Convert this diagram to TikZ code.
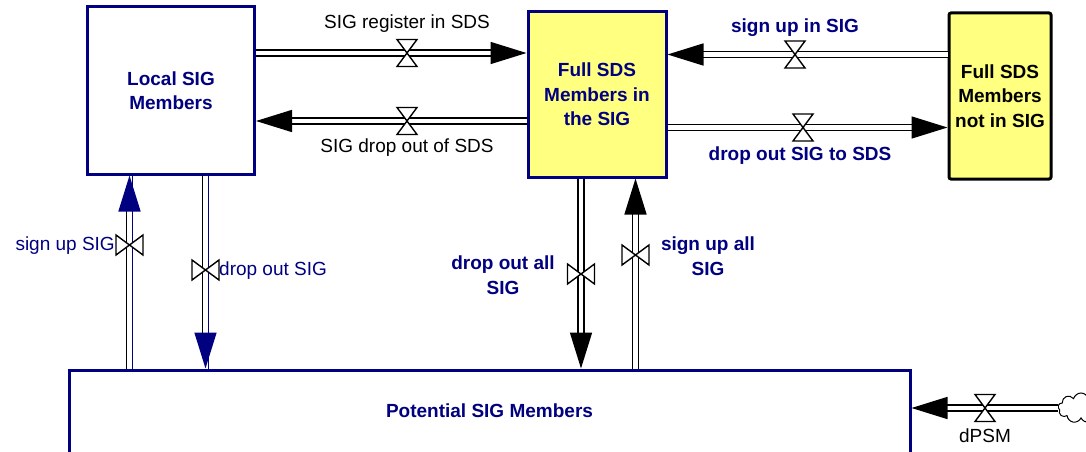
\documentclass[tikz,border=0pt]{standalone}
\usepackage{fontspec}
\setmainfont{Liberation Sans}
\usetikzlibrary{arrows.meta,shapes.symbols}
\definecolor{navy}{RGB}{0,0,128}
\definecolor{stockyellow}{RGB}{255,255,128}
\tikzset{
  stock/.style={draw=navy, line width=3pt, fill=white, align=center, text=navy,
    font=\fontsize{19}{24.5}\selectfont\bfseries},
  pipe/.style={draw=black, double=white, double distance=4.4pt, line width=1.5pt},
  flowtip/.style={-{Triangle[length=36pt,width=22pt]}},
  navytip/.style={-{Triangle[length=36pt,width=22pt,color=navy]}},
  flowlabel/.style={font=\fontsize{19}{24.5}\selectfont},
  boldlabel/.style={font=\fontsize{19}{24.5}\selectfont\bfseries, text=navy, align=center},
  valveh/.pic={\draw[line width=1.4pt, fill=white] (-10,-13.5) -- (10,-13.5) -- (-10,13.5) -- (10,13.5) -- cycle;},
  valvev/.pic={\draw[line width=1.4pt, fill=white] (-13.5,-10) -- (-13.5,10) -- (13.5,-10) -- (13.5,10) -- cycle;}
}
\begin{document}
\begin{tikzpicture}[x=1pt, y=-1pt]
  \useasboundingbox (0,0) rectangle (1086,452);
  \clip (0,0) rectangle (1086,452);

  % Stocks
  \node[stock, minimum width=167pt, minimum height=167pt] (local) at (171,90.5) {Local SIG\\Members};
  \node[stock, fill=stockyellow, minimum width=138pt, minimum height=165pt] (full) at (597,94.5) {Full SDS\\Members in\\the SIG};
  \node[stock, draw=black, text=black, fill=stockyellow, rounded corners=2pt,
        minimum width=102pt, minimum height=166pt] (notin) at (1000,96) {Full SDS\\Members\\not in SIG};
  \node[stock, minimum width=841pt, minimum height=120pt,
        label={[boldlabel, anchor=center, yshift=-42pt]north:Potential SIG Members}] (potential) at (489.5,430) {};
  \node[cloud, draw, line width=1pt, cloud puffs=9, aspect=1.4,
        minimum width=46pt, minimum height=30pt] (source) at (1081,408) {};

  % Valves
  \coordinate (vreg) at (407,53);
  \coordinate (vdrop) at (407,121);
  \coordinate (vsignin) at (795,54.5);
  \coordinate (vdropto) at (803,127.5);
  \coordinate (vsu) at (129.5,245);
  \coordinate (vdo) at (205.5,270);
  \coordinate (vdoall) at (581,274);
  \coordinate (vsuall) at (635.5,255);
  \coordinate (vpsm) at (985,408);

  % Flows
  \draw[pipe, flowtip] (local.east |- vreg) -- (full.west |- vreg);
  \draw[pipe, flowtip] (full.west |- vdrop) -- (local.east |- vdrop);
  \draw[pipe, flowtip] (notin.west |- vsignin) -- (full.east |- vsignin);
  \draw[pipe, flowtip] (full.east |- vdropto) -- (notin.west |- vdropto);
  \draw[pipe, navytip] (vsu |- potential.north) -- (vsu |- local.south);
  \draw[navy, line width=1.5pt, transform canvas={xshift=3pt}] (vsu |- potential.north) -- (vsu |- local.south);
  \draw[pipe, navytip] (vdo |- local.south) -- (vdo |- potential.north);
  \draw[navy, line width=1.5pt, transform canvas={xshift=3pt}] (vdo |- local.south) -- (vdo |- potential.north);
  \draw[pipe, flowtip] (vdoall |- full.south) -- (vdoall |- potential.north);
  \draw[pipe, flowtip] (vsuall |- potential.north) -- (vsuall |- full.south);
  \draw[pipe, flowtip] (source.west) -- (potential.east |- source.west);

  \pic at (vreg) {valveh};
  \pic at (vdrop) {valveh};
  \pic at (vsignin) {valveh};
  \pic at (vdropto) {valveh};
  \pic at (vpsm) {valveh};
  \pic at (vsu) {valvev};
  \pic at (vdo) {valvev};
  \pic at (vdoall) {valvev};
  \pic at (vsuall) {valvev};

  % Labels
  \node[flowlabel] (lreg) at (407,24) {SIG register in SDS};
  \node[flowlabel] (ldrop) at (407,148) {SIG drop out of SDS};
  \node[boldlabel] (lsignin) at (795,28) {sign up in SIG};
  \node[boldlabel] (ldropto) at (800,156) {drop out SIG to SDS};
  \node[flowlabel, text=navy, anchor=east, inner sep=1pt] (lsu) at (116,246) {sign up SIG};
  \node[flowlabel, text=navy, anchor=west, inner sep=1pt] (ldo) at (218,271) {drop out SIG};
  \node[boldlabel] (ldoall) at (503,275) {drop out all\\SIG};
  \node[boldlabel] (lsuall) at (708,256) {sign up all\\SIG};
  \node[flowlabel] (lpsm) at (985,436) {dPSM};
\end{tikzpicture}
\end{document}
